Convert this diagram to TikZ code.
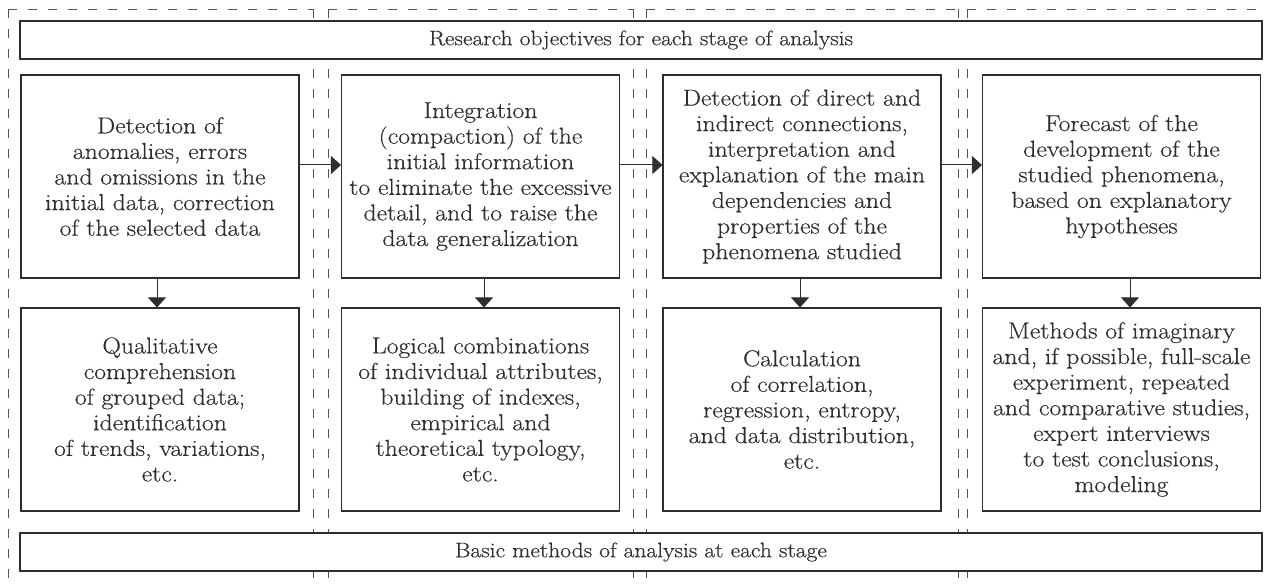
\documentclass[tikz,border=0pt]{standalone}
\usepackage{fontspec}
\setmainfont[FakeStretch=1.12,FakeBold=0.4]{Latin Modern Roman}
\usetikzlibrary{arrows.meta}
\definecolor{ink}{HTML}{2E2E2E}
\definecolor{dashc}{HTML}{555555}
\begin{document}
\begin{tikzpicture}[x=1pt,y=-1pt,
  dashline/.style={draw=dashc,line width=0.9pt,dash pattern=on 9pt off 11pt},
  box/.style={draw=ink,line width=1.1pt,fill=white,rectangle,inner sep=0pt,align=center,text=ink,
    font=\fontsize{23}{25.6}\selectfont},
  colbox/.style={box,minimum width=278pt,minimum height=203pt},
  widebox/.style={box,minimum width=1242pt,minimum height=38pt,font=\fontsize{21}{24}\selectfont},
  arr/.style={draw=ink,line width=1pt,-{Triangle[length=10pt,width=18pt]}}]
\useasboundingbox (0,0) rectangle (1266,585);
% dashed column frames
\foreach \l/\r in {8/313,328/633,646/958}{
  \draw[dashline] (\l,9) -- (\l,585);
  \draw[dashline] (\l,9) -- (\r,9);
  \draw[dashline] (\r,9) -- (\r,585);
}
\draw[dashline] (967,9) -- (967,585);
\draw[dashline] (967,9) -- (1266,9);
% wide boxes
\node[widebox] (top) at (641,40) {Research objectives for each stage of analysis};
\node[widebox] (bot) at (641,552) {Basic methods of analysis at each stage};
% upper column boxes
\node[colbox] (t1) at (160,176.5) {Detection of\\anomalies, errors\\and omissions in the\\initial data, correction\\of the selected data};
\node[colbox] (t2) at (480.5,176.5) {Integration\\(compaction) of the\\initial information\\to eliminate the excessive\\detail, and to raise the\\data generalization};
\node[colbox] (t3) at (802,176.5) {Detection of direct and\\indirect connections,\\interpretation and\\explanation of the main\\dependencies and\\properties of the\\phenomena studied};
\node[colbox] (t4) at (1121.5,176.5) {Forecast of the\\development of the\\studied phenomena,\\based on explanatory\\hypotheses};
% lower column boxes
\node[colbox] (b1) at (160,409.5) {Qualitative\\comprehension\\of grouped data;\\identification\\of trends, variations,\\etc.};
\node[colbox] (b2) at (480.5,409.5) {Logical combinations\\of individual attributes,\\building of indexes,\\empirical and\\theoretical typology,\\etc.};
\node[colbox] (b3) at (802,409.5) {Calculation\\of correlation,\\regression, entropy,\\and data distribution,\\etc.};
\node[colbox] (b4) at (1121.5,409.5) {Methods of imaginary\\and, if possible, full-scale\\experiment, repeated\\and comparative studies,\\expert interviews\\to test conclusions,\\modeling};
% horizontal arrows
\draw[arr] ([yshift=11.5pt]t1.east) -- ([yshift=11.5pt]t2.west);
\draw[arr] ([yshift=11.5pt]t2.east) -- ([yshift=11.5pt]t3.west);
\draw[arr] ([yshift=11.5pt]t3.east) -- ([yshift=11.5pt]t4.west);
% vertical arrows
\draw[arr] ([xshift=-3pt]t1.south) -- ([xshift=-3pt]b1.north);
\draw[arr] ([xshift=3.5pt]t2.south) -- ([xshift=3.5pt]b2.north);
\draw[arr] ([xshift=-2pt]t3.south) -- ([xshift=-2pt]b3.north);
\draw[arr] ([xshift=8.5pt]t4.south) -- ([xshift=8.5pt]b4.north);
\end{tikzpicture}
\end{document}
